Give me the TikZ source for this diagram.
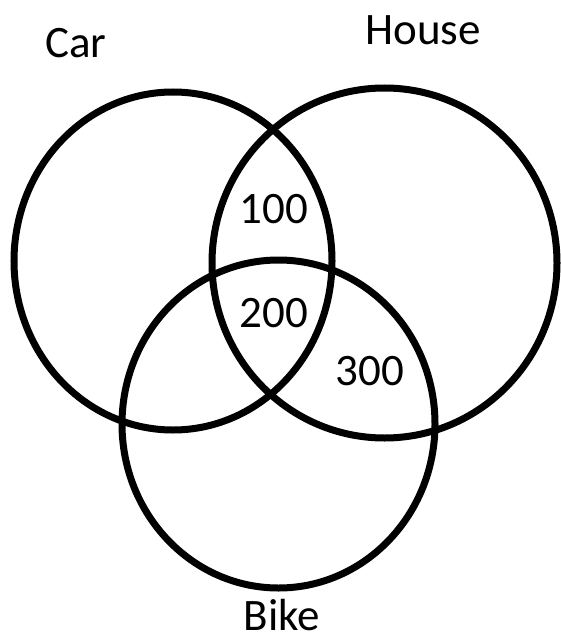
\documentclass[tikz,border=0pt]{standalone}
\usepackage{fontspec}
\setmainfont{Carlito}
\begin{document}
\begin{tikzpicture}[x=1pt,y=-1pt,
  ring/.style={draw=black,line width=7pt},
  lbl/.style={anchor=base,inner sep=0pt,font=\fontsize{45}{50}\selectfont}]
\useasboundingbox (0,0) rectangle (561,639);
\draw[ring] (173,261) ellipse [x radius=159, y radius=169];
\draw[ring] (384.5,263) ellipse [x radius=172.5, y radius=175];
\draw[ring] (278.5,424) ellipse [x radius=156.5, y radius=164];
\node[lbl] (car) at (76,58) {Car};
\node[lbl] (house) at (423,45) {House};
\node[lbl] (n100) at (274,223) {100};
\node[lbl] (n200) at (274,327) {200};
\node[lbl] (n300) at (370,385) {300};
\node[lbl] (bike) at (282,630) {Bike};
\end{tikzpicture}
\end{document}
